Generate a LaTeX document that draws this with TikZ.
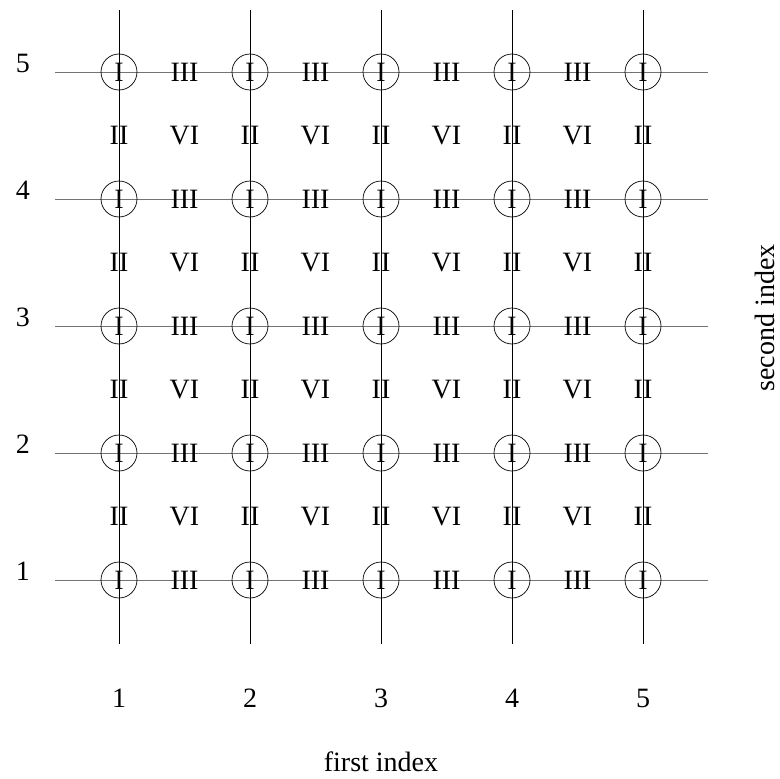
\documentclass[tikz,border=0pt]{standalone}
\usepackage{fontspec}
\setmainfont{Liberation Serif}
\begin{document}
\begin{tikzpicture}[x=1pt,y=-1pt,
  lab/.style={font=\fontsize{28}{28}\selectfont, inner sep=0pt},
  site/.style={circle, draw, line width=0.7pt, minimum size=36pt, inner sep=0pt, font=\fontsize{28}{28}\selectfont},
  vline/.style={line width=0.8pt, black},
  hline/.style={line width=0.9pt, black!55}]
\useasboundingbox (0,0) rectangle (780,779);
% column i sits at x = 119 + 131(i-1), row j at y = 580 - 127(j-1)
\foreach \i in {1,...,5}{
  \coordinate (top\i) at ({119+131*(\i-1)},10);
  \coordinate (bot\i) at ({119+131*(\i-1)},644);
  \coordinate (lft\i) at (55,{580-127*(\i-1)});
  \coordinate (rgt\i) at (708,{580-127*(\i-1)});
}
% grid lines
\foreach \i in {1,...,5}{
  \draw[hline] (lft\i) -- (rgt\i);
  \draw[vline] (top\i) -- (bot\i);
}
% circled sites
\foreach \i in {1,...,5}{
  \foreach \j in {1,...,5}{
    \node[site] (s\i\j) at ({119+131*(\i-1)},{580-127*(\j-1)}) {I};
  }
}
% labels on horizontal edges
\foreach \i in {1,...,4}{
  \foreach \j in {1,...,5}{
    \node[lab] (h\i\j) at ({184.5+131*(\i-1)},{580-127*(\j-1)}) {III};
  }
}
% labels on vertical edges
\foreach \i in {1,...,5}{
  \foreach \j in {1,...,4}{
    \node[lab] (v\i\j) at ({119+131*(\i-1)},{516.5-127*(\j-1)}) {II};
  }
}
% labels on faces
\foreach \i in {1,...,4}{
  \foreach \j in {1,...,4}{
    \node[lab] (f\i\j) at ({184.5+131*(\i-1)},{516.5-127*(\j-1)}) {VI};
  }
}
% index numbers
\foreach \i in {1,...,5}{
  \node[lab] (cx\i) at ({119+131*(\i-1)},698) {\i};
  \node[lab] (cy\i) at (23,{571-127*(\i-1)}) {\i};
}
% axis titles
\node[lab] (xt) at (381,762) {first index};
\node[lab, rotate=90] (yt) at (765,318) {second index};
\end{tikzpicture}
\end{document}
